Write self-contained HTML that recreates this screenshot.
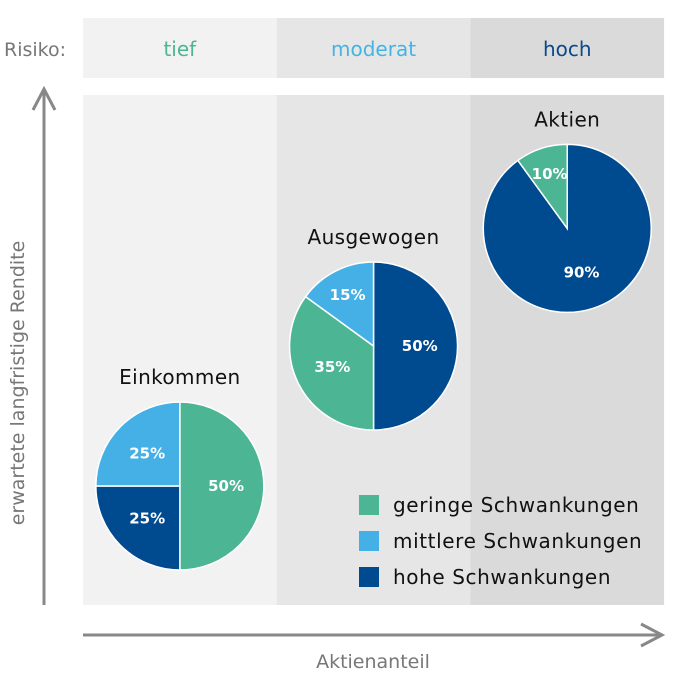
<!DOCTYPE html>
<html><head><meta charset="utf-8"><style>
body{margin:0;background:#fff;}
svg{display:block;font-family:"DejaVu Sans","Liberation Sans",sans-serif;}
</style></head><body>
<svg id="chart" width="675" height="675" viewBox="0 0 675 675">
<g id="bands"></g>
<g id="axes">
 <line x1="44" y1="605" x2="44" y2="90" stroke="#888" stroke-width="3"/>
 <polyline points="33,110 44,89 55,110" fill="none" stroke="#888" stroke-width="3"/>
 <line x1="83" y1="635" x2="660" y2="635" stroke="#888" stroke-width="3"/>
 <polyline points="641,624 662,635 641,646" fill="none" stroke="#888" stroke-width="3"/>
 <text x="373" y="668" text-anchor="middle" font-size="19" fill="#777">Aktienanteil</text>
 <text transform="translate(24,383) rotate(-90)" text-anchor="middle" font-size="19" fill="#777">erwartete langfristige Rendite</text>
 <text x="4" y="56" font-size="19" fill="#777">Risiko:</text>
</g>
<g id="pies"></g>
<g id="legend"></g>
</svg>
<script>
const riskLevels=["tief","moderat","hoch"];
const riskColors=["#4cb594","#45b4e3","#0a4a8c"];
const portfolios=["Einkommen","Ausgewogen","Aktien"];
const returnLevel=[1.0,2.0,2.84];
const geringe=[50,35,10];
const mittlere=[25,15,0];
const hohe=[25,50,90];
const legendLabels=["geringe Schwankungen","mittlere Schwankungen","hohe Schwankungen"];
const sliceColors=["#4cb594","#45b0e5","#004a8f"];
const NS="http://www.w3.org/2000/svg";
function mk(t,a,p){const e=document.createElementNS(NS,t);for(const k in a)e.setAttribute(k,a[k]);p.appendChild(e);return e;}
const colX=i=>83+i*193.7, colW=193.7;
const bandFill=["#f2f2f2","#e6e6e6","#dadada"];
const bands=document.getElementById('bands');
riskLevels.forEach((r,i)=>{
 const h=mk('rect',{x:colX(i),y:18,width:colW,height:60,fill:bandFill[i]},bands);
 
 
 const b=mk('rect',{x:colX(i),y:95,width:colW,height:510,fill:bandFill[i]},bands);
 
 
 const t=mk('text',{x:colX(i)+colW/2,y:56,'text-anchor':'middle','font-size':20,fill:riskColors[i]},bands);
 t.textContent=r;
 
 
});
const cx=i=>colX(i)+colW/2;
const yScale=r=>486-(r-1)*140;
const R=84;
const pies=document.getElementById('pies');
portfolios.forEach((p,i)=>{
 const g=mk('g',{},pies);
 
 
 const vals=[geringe[i],mittlere[i],hohe[i]];
 const x0=cx(i),y0=yScale(returnLevel[i]);
 const order = i===0?[0,2,1]:[2,0,1];
 let a=0;
 order.forEach(k=>{
  const v=vals[k]; if(!v) return;
  const a1=a+v/100*2*Math.PI;
  const px=(t)=>x0+R*Math.sin(t), py=(t)=>y0-R*Math.cos(t);
  const d=`M${x0},${y0} L${px(a)},${py(a)} A${R},${R} 0 ${v>50?1:0} 1 ${px(a1)},${py(a1)} Z`;
  const s=mk('path',{d,fill:sliceColors[k],stroke:'#fff','stroke-width':1.5},g);
  
  
  const m=(a+a1)/2, lr=R*(v<=15?0.68:0.55);
  const t=mk('text',{x:x0+lr*Math.sin(m),y:y0-lr*Math.cos(m)+5,'text-anchor':'middle','font-size':15,'font-weight':'bold',fill:'#fff'},g);
  t.textContent=v+'%';
  
  
  a=a1;
 });
 const tt=mk('text',{x:x0,y:y0-R-18,'text-anchor':'middle','font-size':20,fill:'#111','letter-spacing':'0.4'},g);
 tt.textContent=p;
 
 
});
const lg=document.getElementById('legend');
legendLabels.forEach((l,i)=>{
 const r=mk('rect',{x:359,y:495+i*36,width:20,height:20,fill:sliceColors[i]},lg);
 
 
 const t=mk('text',{x:393,y:512+i*36,'font-size':20,fill:'#111','letter-spacing':'0.6'},lg);
 t.textContent=l;
 
 
});
</script>
</body></html>
